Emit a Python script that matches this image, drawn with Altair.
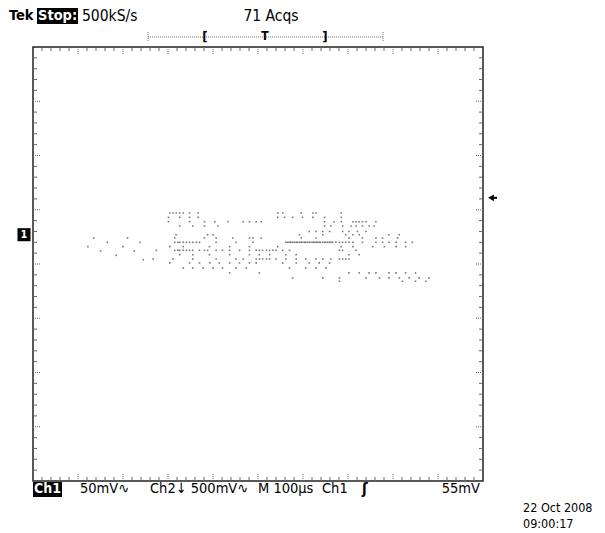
import altair as alt
import numpy as np
import pandas as pd

# ---------------- data ----------------
# Ch1 trace dots: each row is one voltage level (mV above screen centre),
# with the times (µs from trigger) at which dots were seen on that level.
ROW_MV = [47, 43, 39, 35, 30, 27, 24, 20, 16, 12.6, 8.6, 4.6, 1, -3.6, -8.2, -12.8, -15.9]
ROW_T = [
    [-196, -189, -182, -174, -166, -152, -133, 44, 55, 96, 122, 129, 185],
    [-199, -174, -152, -133, 44, 59, 77, 99, 122, 148, 185],
    [-199, -152, -119, -96, -67, -33, -19, -4, 7, 148, 169, 185, 211, 218, 225, 232, 240, 262],
    [-174, -145, -119, -89, 148, 162, 188, 207, 218, 232, 247, 258],
    [114, 129, 144, 159, 188, 202, 221, 240],
    [-182, -112, -100, 92, 144, 195, 211, 225, 291, 314],
    [-185, -119, -93, -56, -19, -11, 7, 96, 129, 202, 232, 262, 277, 310],
    [-185, -178, -174, -166, -159, -152, -145, -137, -130, -93, -49, -11,
     62, 66, 70, 73, 77, 81, 85, 88, 92, 96, 99, 103, 106, 110, 114, 118, 122,
     125, 129, 132, 136, 139, 144, 148, 151, 155, 159, 162, 166,
     173, 181, 188, 195, 202, 211, 232, 262, 277, 291, 307, 328, 343],
    [-196, -166, -108, -63, -19, 44, 185, 211, 255, 281, 307, 328],
    [-226, -185, -178, -174, -166, -159, -152, -145, -130, -119, -112, -93, -79,
     -63, -41, -19, -4, 3, 10, 19, 26, 33, 40, 55, 70, 181, 188, 218],
    [-174, -145, -108, -63, -19, 3, 26, 62, 85, 202, 225],
    [-233, -189, -145, -93, -49, -33, -4, 3, 10, 19, 26, 40, 62, 85, 106, 129,
     144, 162, 181, 188, 195, 202],
    [-196, -152, -130, -107, -86, -63, -41, -19, -4, 55, 85, 114, 136, 159],
    [-166, -145, -122, -100, -79, -49, -26, 70, 106, 129, 151],
    [-63, 3, 202, 225, 247, 262, 291, 307, 328, 350],
    [77, 144, 181, 240, 270, 291, 314, 336, 358, 380],
    [181, 321, 350, 373],
]
LEFT_T = [-378, -365, -350, -335, -315, -300, -290, -275, -262, -255]
LEFT_MV = [16, 24, 12, 20, 8, 16, 24, 12, 20, 4]

GROUND_MV = 27         # Ch1 ground marker, mV above screen centre
TRIG_ARROW_MV = 61     # trigger-level arrow, mV above screen centre

T_DOMAIN = [-500, 500]  # 10 div x 100 µs
V_DOMAIN = [-200, 200]  # 8 div x 50 mV

W, H = 450, 434
FONT = "DejaVu Sans Condensed"

rows_t, rows_v = [], []
for mv, ts in zip(ROW_MV, ROW_T):
    rows_t += ts
    rows_v += [mv] * len(ts)
rows_t += LEFT_T
rows_v += LEFT_MV
dots = pd.DataFrame({"t": rows_t, "v": rows_v})

xs = alt.Scale(domain=T_DOMAIN, nice=False, zero=False)
ys = alt.Scale(domain=V_DOMAIN, nice=False, zero=False)

# graticule tick positions on frame edges (every 0.2 division)
xt = np.round(np.arange(-500, 501, 20), 6)
yt = np.round(np.arange(-200, 201, 10), 6)
xminor = pd.DataFrame({"t": [v for v in xt if v % 100 != 0]})
xmajor = pd.DataFrame({"t": [v for v in xt if v % 100 == 0 and abs(v) != 500]})
yminor = pd.DataFrame({"v": [v for v in yt if v % 50 != 0]})
ymajor = pd.DataFrame({"v": [v for v in yt if v % 50 == 0 and abs(v) != 200]})

one = pd.DataFrame({"k": [0]})
GRAY = "#666666"


def hticks(df, y0, y1, dash=None):
    kw = dict(color=GRAY, strokeWidth=1)
    if dash:
        kw["strokeDash"] = dash
    return alt.Chart(df).mark_rule(**kw).encode(
        x=alt.X("t:Q", scale=xs, axis=None), y=alt.value(y0), y2=alt.value(y1))


def vticks(df, x0, x1, dash=None):
    kw = dict(color=GRAY, strokeWidth=1)
    if dash:
        kw["strokeDash"] = dash
    return alt.Chart(df).mark_rule(**kw).encode(
        y=alt.Y("v:Q", scale=ys, axis=None), x=alt.value(x0), x2=alt.value(x1))


def label(text, x, y, size=14, color="black", weight="normal", align="left", font=FONT):
    return alt.Chart(one).mark_text(
        text=text, align=align, baseline="middle", fontSize=size, font=font,
        color=color, fontWeight=weight).encode(x=alt.value(x), y=alt.value(y))


def box(x0, x1, y0, y1, color="black"):
    return alt.Chart(one).mark_rect(color=color).encode(
        x=alt.value(x0), x2=alt.value(x1), y=alt.value(y0), y2=alt.value(y1))


layers = []
# frame ticks
layers += [
    hticks(xminor, 0, 4), hticks(xminor, H, H - 4),
    hticks(xmajor, 0, 8, [1, 1]), hticks(xmajor, H, H - 8, [1, 1]),
    vticks(yminor, 0, 4), vticks(yminor, W, W - 4),
    vticks(ymajor, 0, 8, [1, 1]), vticks(ymajor, W, W - 8, [1, 1]),
]

# trace dots
layers.append(
    alt.Chart(dots).mark_square(size=2.5, color="#555555", opacity=0.8).encode(
        x=alt.X("t:Q", scale=xs, axis=None), y=alt.Y("v:Q", scale=ys, axis=None))
)

# trigger level arrow (just outside the right edge)
trig = pd.DataFrame({"v": [TRIG_ARROW_MV]})
layers.append(alt.Chart(trig).mark_point(shape="triangle-left", filled=True, size=45,
                                          color="black", opacity=1).encode(
    y=alt.Y("v:Q", scale=ys, axis=None), x=alt.value(W + 8)))
layers.append(alt.Chart(trig).mark_rule(color="black", strokeWidth=2).encode(
    y=alt.Y("v:Q", scale=ys, axis=None), x=alt.value(W + 8), x2=alt.value(W + 14)))

# Ch1 ground marker (left, outside frame)
gnd = pd.DataFrame({"v": [GROUND_MV]})
layers.append(alt.Chart(gnd).mark_square(size=170, color="black", opacity=1).encode(
    y=alt.Y("v:Q", scale=ys, axis=None), x=alt.value(-9)))
layers.append(alt.Chart(gnd).mark_text(text="1", color="white", fontSize=11,
                                        fontWeight="bold", font=FONT).encode(
    y=alt.Y("v:Q", scale=ys, axis=None), x=alt.value(-9)))

# header
HY = -31
layers += [
    label("Tek", -24, HY, size=14.5, weight="bold"),
    box(4, 45, HY - 8, HY + 8),
    label("Stop:", 5, HY, size=14.5, color="white", weight="bold"),
    label("500kS/s", 49, HY, size=15.5),
    label("71 Acqs", 238, HY, size=15.5, align="center"),
]
# record-length bracket
BRY = -10
layers += [
    alt.Chart(one).mark_rule(color="#777777", strokeDash=[1, 1]).encode(
        x=alt.value(115), x2=alt.value(350), y=alt.value(BRY)),
    alt.Chart(one).mark_rule(color="#777777", strokeDash=[1, 1]).encode(
        x=alt.value(115), y=alt.value(BRY - 5), y2=alt.value(BRY + 5)),
    alt.Chart(one).mark_rule(color="#777777", strokeDash=[1, 1]).encode(
        x=alt.value(350), y=alt.value(BRY - 5), y2=alt.value(BRY + 5)),
    label("[", 172, BRY, size=13, weight="bold", align="center"),
    label("T", 232, BRY - 1, size=12, weight="bold", align="center"),
    label("]", 292, BRY, size=13, weight="bold", align="center"),
]
# bottom readout
BY = H + 8
layers += [
    box(0, 29, H + 1, H + 16),
    label("Ch1", 14.5, BY, size=14, color="white", weight="bold", align="center"),
    label("50mV\u223f", 47, BY, size=14.5),
    label("Ch2\u2193 500mV\u223f", 117, BY, size=14.5),
    label("M 100\u00b5s", 225, BY, size=14.5),
    label("Ch1", 289, BY, size=14.5),
    label("\u0283", 329, BY, size=15, weight="bold"),
    label("55mV", 447, BY, align="right", size=14.5),
    label("22 Oct 2008", 490, H + 27, size=12.5),
    label("09:00:17", 490, H + 43, size=12.5),
]

chart = alt.layer(*layers).properties(
    width=W, height=H,
    padding={"left": 25, "top": 39, "right": 114, "bottom": 50},
    autosize="none",
    background="white",
).configure_view(stroke="#222222", strokeWidth=1.5)

chart.save("out.html", embed_options={"renderer": "svg", "actions": False})
